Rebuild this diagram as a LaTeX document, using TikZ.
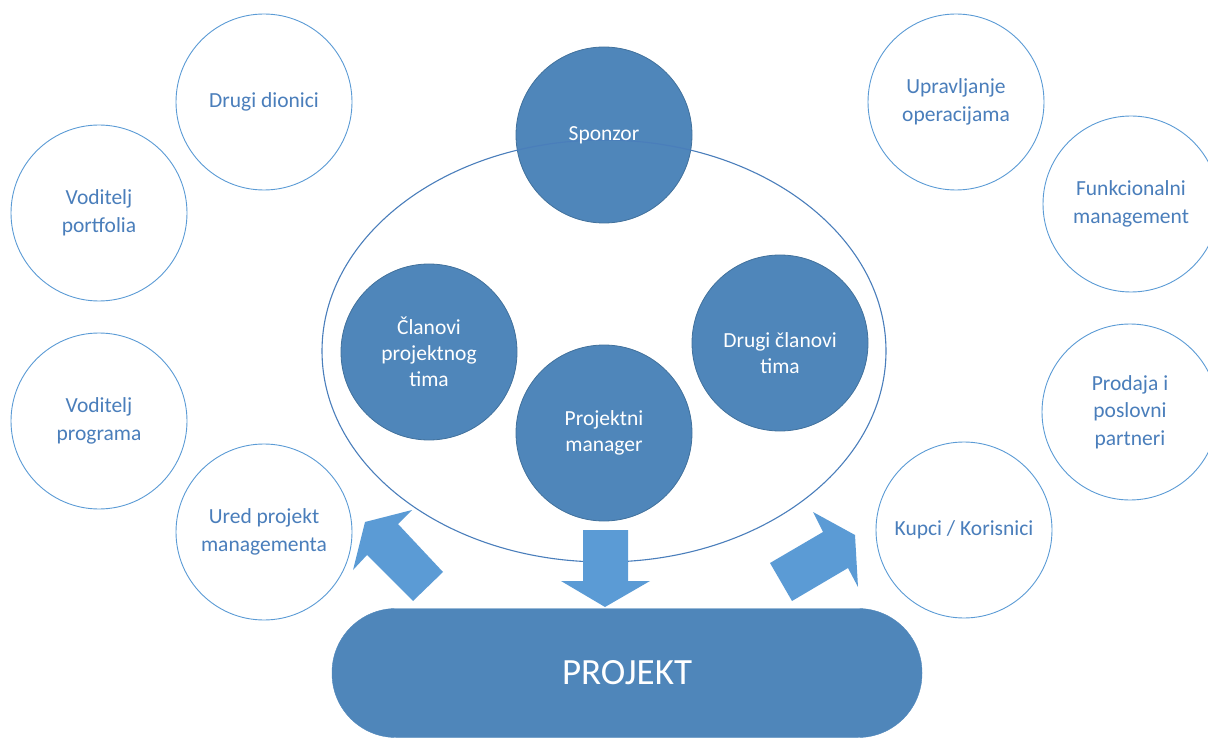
\documentclass[tikz,border=0pt]{standalone}
\usepackage{fontspec}
\usetikzlibrary{shapes.geometric}
\setmainfont{Carlito}
\definecolor{outline}{HTML}{5B9BD5}
\definecolor{outtext}{HTML}{4A7EBB}
\definecolor{fillblue}{HTML}{4F86BA}
\definecolor{darkedge}{HTML}{41719C}
\definecolor{arrowblue}{HTML}{5B9BD5}
\begin{document}
\begin{tikzpicture}[x=1pt,y=-1pt,
  outer/.style={circle,draw=outline,line width=0.9pt,fill=white,minimum size=176pt,inner sep=0pt,
    align=center,text=outtext,font=\fontsize{21.5}{27.5}\selectfont},
  inner/.style={circle,draw=darkedge,line width=0.8pt,fill=fillblue,minimum size=176pt,inner sep=0pt,
    align=center,text=white,font=\fontsize{21.5}{26}\selectfont},
  bigarrow/.style={fill=arrowblue,draw=none}]
\useasboundingbox (0,0) rectangle (1208,738);
% outer circles
\node[outer] (dionici) at (264,102) {Drugi dionici};
\node[outer] (portfolio) at (99,213) {Voditelj\\portfolia};
\node[outer] (program) at (99,421) {Voditelj\\programa};
\node[outer] (ured) at (264,532) {Ured projekt\\managementa};
\node[outer] (operacije) at (956,102) {Upravljanje\\operacijama};
\node[outer] (funkc) at (1131,204) {Funkcionalni\\management};
\node[outer] (prodaja) at (1130,412) {Prodaja i\\poslovni\\partneri};
\node[outer] (kupci) at (964,530) {Kupci / Korisnici};
% inner circles
\node[inner] (sponzor) at (604,135) {};
\node[draw=outtext,line width=1.1pt,ellipse,minimum width=564pt,minimum height=422pt,inner sep=0pt] (tim) at (604,351) {};
\node[text=white,font=\fontsize{21.5}{26}\selectfont] (sponzortext) at (sponzor.center) {Sponzor};
\node[inner] (clanovi) at (429,352) {Članovi\\projektnog\\tima};
\node[inner] (pm) at (604,433) {Projektni\\manager};
\node[inner] (drugi) at (780,343) {};
\node[align=center,text=white,font=\fontsize{21.5}{26}\selectfont] (drugitext) at (780,353) {Drugi članovi\\tima};
% project
\node[rounded corners=64pt,fill=fillblue,draw=fillblue,minimum width=590pt,minimum height=129pt,inner sep=0pt,
  text=white,font=\fontsize{37}{44}\selectfont] (projekt) at (627,673) {PROJEKT};
% arrows
\fill[arrowblue] (583,530) -- (628,530) -- (628,581) -- (650,581) -- (605,607) -- (561,581) -- (583,581) -- cycle;
\fill[arrowblue] (365,522) -- (412,510) -- (398,524) -- (443,572) -- (413,601) -- (367,555) -- (353,570) -- cycle;
\fill[arrowblue] (813,512) -- (855,535) -- (858,587) -- (848,568) -- (792,601) -- (770,563) -- (823,532) -- cycle;
\end{tikzpicture}
\end{document}
